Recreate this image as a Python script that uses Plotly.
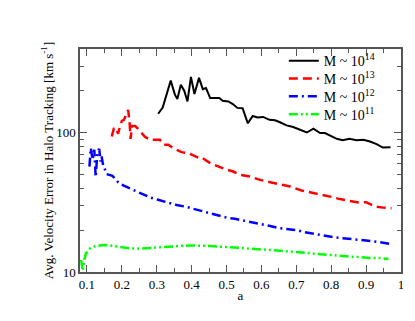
import plotly.graph_objects as go

# M ~ 1e14
a14 = [0.304, 0.317, 0.340, 0.352, 0.359, 0.369, 0.379, 0.388, 0.398, 0.408, 0.421, 0.432, 0.441, 0.453,
       0.479, 0.489, 0.505, 0.518, 0.531, 0.546, 0.561, 0.575, 0.589, 0.605, 0.623, 0.639, 0.653, 0.672,
       0.691, 0.711, 0.730, 0.749, 0.768, 0.782, 0.801, 0.816, 0.833, 0.852, 0.873, 0.892, 0.911, 0.930,
       0.948, 0.970]
v14 = [137, 152, 237, 188, 175, 221, 200, 168, 252, 190, 248, 206, 210, 178,
       178, 170, 168, 161, 151, 150, 117, 132, 129, 130, 124, 123, 119, 113,
       110, 105, 100.5, 107, 99.5, 99.5, 94, 90.5, 88.5, 90.5, 88.5, 89, 86.5, 83,
       78.4, 78.8]

# M ~ 1e13
a13 = [0.171, 0.177, 0.183, 0.189, 0.195, 0.200, 0.206, 0.215, 0.218, 0.222, 0.225, 0.229, 0.238, 0.246,
       0.255, 0.266, 0.281, 0.295, 0.309, 0.319, 0.333, 0.347, 0.371, 0.390, 0.405, 0.422, 0.429, 0.451,
       0.472, 0.496, 0.519, 0.539, 0.567, 0.596, 0.625, 0.658, 0.682, 0.715, 0.744, 0.768, 0.797, 0.825,
       0.854, 0.878, 0.900, 0.925, 0.949, 0.973]
v13 = [94, 107, 109, 98.4, 112, 122, 124, 139, 146, 120, 90.5, 112, 112, 107,
       100, 93.6, 89, 89, 89, 82, 82, 77.6, 72.6, 71.5, 68.7, 65.8, 66.4, 61.1,
       57.9, 54.8, 52.7, 49.9, 48.5, 45.9, 44.2, 42.3, 41.1, 38.5, 37.2, 36.4, 34.8, 33.4,
       32.6, 31.6, 31.7, 29.5, 29.0, 28.7]

# M ~ 1e12
a12 = [0.107, 0.111, 0.116, 0.121, 0.125, 0.130, 0.135, 0.139, 0.142, 0.147, 0.152, 0.156, 0.173, 0.190,
       0.204, 0.233, 0.257, 0.281, 0.304, 0.328, 0.357, 0.381, 0.405, 0.429, 0.453, 0.476, 0.500, 0.524,
       0.553, 0.577, 0.601, 0.625, 0.653, 0.677, 0.701, 0.725, 0.754, 0.778, 0.806, 0.830, 0.854, 0.878,
       0.906, 0.930, 0.959, 0.969]
v12 = [57.2, 77.6, 64, 75.5, 48, 73.3, 76.7, 62.2, 67.5, 57.2, 54.2, 50.5, 49.1, 44,
       41.9, 38.9, 36.8, 34.3, 33, 31.7, 30.3, 29.5, 28.4, 27.2, 26.4, 25.4, 24.6, 24.1,
       23.3, 22.8, 22.0, 21.4, 20.6, 20.3, 20.0, 19.3, 18.7, 18.2, 17.8, 17.5, 17.3, 17.2,
       16.8, 16.5, 16.1, 15.9]

# M ~ 1e11
a11 = [0.083, 0.088, 0.092, 0.097, 0.109, 0.118, 0.128, 0.147, 0.166, 0.195, 0.223, 0.252, 0.281, 0.309,
       0.338, 0.367, 0.395, 0.424, 0.453, 0.481, 0.510, 0.539, 0.567, 0.596, 0.625, 0.653, 0.682, 0.711,
       0.739, 0.768, 0.797, 0.825, 0.854, 0.883, 0.911, 0.940, 0.964]
v11 = [12.2, 10.2, 12.2, 13.6, 14.8, 15.2, 15.4, 15.6, 15.5, 15.1, 14.8, 14.7, 14.9, 15.1,
       15.2, 15.4, 15.5, 15.5, 15.4, 15.2, 15.1, 14.9, 14.7, 14.6, 14.4, 14.2, 14.0, 13.8,
       13.6, 13.4, 13.3, 13.0, 12.9, 12.8, 12.6, 12.6, 12.4]

names = ["M ~ 10<sup>14</sup>", "M ~ 10<sup>13</sup>", "M ~ 10<sup>12</sup>", "M ~ 10<sup>11</sup>"]
x_ticks = [0.1, 0.2, 0.3, 0.4, 0.5, 0.6, 0.7, 0.8, 0.9, 1.0]
x_ticktext = ["0.1", "0.2", "0.3", "0.4", "0.5", "0.6", "0.7", "0.8", "0.9", "1"]
y_ticks = [10, 100]
y_ticktext = ["10", "100"]

FONT = "Liberation Serif, Times New Roman, serif"
BLACK = "#000000"

fig = go.Figure()
fig.add_trace(go.Scatter(x=a14, y=v14, mode="lines", name=names[0], legend="legend",
                         line=dict(color="#000000", width=2)))
fig.add_trace(go.Scatter(x=a13, y=v13, mode="lines", name=names[1], legend="legend2",
                         line=dict(color="#ff0000", width=2.5, dash="9px,5px")))
fig.add_trace(go.Scatter(x=a12, y=v12, mode="lines", name=names[2], legend="legend3",
                         line=dict(color="#0000ff", width=2.5, dash="9px,4px,2px,4px")))
fig.add_trace(go.Scatter(x=a11, y=v11, mode="lines", name=names[3], legend="legend4",
                         line=dict(color="#00ff00", width=2.5, dash="9px,3px,2px,3px,2px,3px")))

axis_line = dict(showline=True, linecolor="#555555", linewidth=1.5, mirror="allticks",
                 ticks="inside", tickcolor="#555555", showgrid=False, zeroline=False)

fig.update_xaxes(range=[0.08, 1.0], tickvals=x_ticks, ticktext=x_ticktext, ticklen=7, tickwidth=1,
                 minor=dict(tickvals=[0.15, 0.25, 0.35, 0.45, 0.55, 0.65, 0.75, 0.85, 0.95],
                            ticks="inside", ticklen=4, tickcolor="#555555"),
                 title=dict(text="a", font=dict(family=FONT, size=13, color=BLACK), standoff=0),
                 tickfont=dict(family=FONT, size=13, color=BLACK), **axis_line)
fig.update_yaxes(type="log", range=[1, 2.602], tickvals=y_ticks, ticktext=y_ticktext, ticklen=7, tickwidth=1,
                 minor=dict(tickvals=[20, 30, 40, 50, 60, 70, 80, 90, 200, 300],
                            ticks="inside", ticklen=4, tickcolor="#555555"),
                 title=dict(text="Avg. Velocity Error in Halo Tracking [km s<sup>-1</sup>]",
                            font=dict(family=FONT, size=13, color=BLACK), standoff=0),
                 tickfont=dict(family=FONT, size=13, color=BLACK), **axis_line)

leg_common = dict(x=0.635, xanchor="left", yanchor="middle", bgcolor="rgba(0,0,0,0)",
                  font=dict(family=FONT, size=14, color=BLACK), itemwidth=30)
# the page body adds an 8px offset; figure is sized so the plot area lands where the reference has it
fig.update_layout(
    width=407, height=313,
    margin=dict(l=72, r=14, t=41, b=49),
    paper_bgcolor="white", plot_bgcolor="white",
    font=dict(family=FONT, size=13, color=BLACK),
    legend=dict(y=0.946, **leg_common),
    legend2=dict(y=0.866, **leg_common),
    legend3=dict(y=0.786, **leg_common),
    legend4=dict(y=0.706, **leg_common),
    showlegend=True,
)

fig.write_html("out.html")
